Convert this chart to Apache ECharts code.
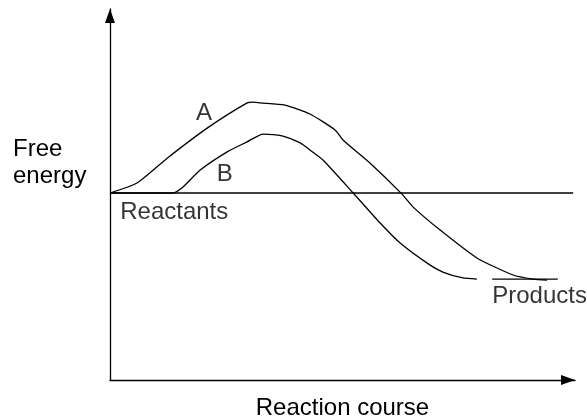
<!DOCTYPE html>
<html>
<head>
<meta charset="utf-8">
<script src="https://cdn.jsdelivr.net/npm/echarts@6/dist/echarts.min.js"></script>
<style>
html,body{margin:0;padding:0;background:#fff;}
#chart{width:587px;height:419px;}
</style>
</head>
<body>
<div id="chart"></div>
<script>
// Reaction coordinate (0-100) and free energy (0-100)
const curveAX = [0, 5.8, 12.3, 20.9, 29.5, 30.8, 32.3, 37.6, 43.0, 48.4, 50.1, 55.9, 62.8, 65.2, 71.0, 78.9, 86.7, 91.0, 94.0];
const curveAY = [50.4, 53.1, 59.8, 67.9, 74.7, 74.9, 74.7, 74.1, 71.7, 67.4, 64.7, 58.5, 50.1, 46.6, 40.4, 32.9, 28.3, 27.2, 26.9];
const curveBX = [0, 13.5, 15.5, 19.4, 25.2, 29.5, 32.9, 37.0, 40.9, 43.0, 45.8, 52.3, 58.1, 62.4, 68.2, 71.6, 75.9, 78.9];
const curveBY = [50.4, 50.4, 51.8, 56.6, 61.5, 64.2, 66.3, 65.8, 63.9, 62.0, 59.3, 50.4, 42.3, 36.9, 31.5, 29.1, 27.5, 27.2];
const reactantLevel = 50.4;
const reactantLineX = [0, 99.6];
const productLevel = 27.2;
const productLineX = [82.2, 96.3];
const annotationNames = ['A', 'B', 'Reactants', 'Products'];
const annotationX = [20.2, 24.7, 2.2, 82.2];
const annotationY = [72.0, 55.5, 45.3, 22.6];
const annotationAlign = ['center', 'center', 'left', 'left'];
const xAxisName = 'Reaction course';
const yAxisName = 'Free\nenergy';

const FONT = 'Liberation Sans, Arial, Helvetica, sans-serif';
const chart = echarts.init(document.getElementById('chart'), null, {renderer: 'canvas'});

const pairs = (xs, ys) => xs.map((x, i) => [x, ys[i]]);
const lineStyle = {color: '#000', width: 1.3};

const axisCommon = {
  type: 'value', min: 0, max: 100,
  axisLine: {show: true, onZero: false, symbol: ['none', 'triangle'], symbolSize: [10, 14], symbolOffset: [0, -7], lineStyle: {color: '#000', width: 1.3}},
  axisTick: {show: false}, axisLabel: {show: false}, splitLine: {show: false}
};

chart.setOption({
  animation: false,
  backgroundColor: '#fff',
  grid: {left: 110, right: 12, top: 9, bottom: 39, containLabel: false, outerBoundsMode: 'none'},
  xAxis: Object.assign({}, axisCommon, {
    name: xAxisName, nameLocation: 'middle', nameGap: 16,
    nameTextStyle: {fontSize: 24, fontFamily: FONT, color: '#000'}
  }),
  yAxis: Object.assign({}, axisCommon),
  graphic: [{
    type: 'text', left: 13, top: 136,
    style: {text: yAxisName, font: '24px ' + FONT, fill: '#000', lineHeight: 27}
  }],
  series: [
    {type: 'line', data: pairs(curveAX, curveAY), symbol: 'none', lineStyle: lineStyle, smooth: 0.2, clip: false},
    {type: 'line', data: pairs(curveBX, curveBY), symbol: 'none', lineStyle: lineStyle, smooth: 0.2, clip: false},
    {type: 'line', data: reactantLineX.map(x => [x, reactantLevel]), symbol: 'none', lineStyle: lineStyle, clip: false},
    {type: 'line', data: productLineX.map(x => [x, productLevel]), symbol: 'none', lineStyle: lineStyle, clip: false},
    {
      type: 'scatter', symbolSize: 0, clip: false,
      data: annotationNames.map((n, i) => ({
        name: n, value: [annotationX[i], annotationY[i]],
        label: {align: annotationAlign[i]}
      })),
      label: {show: true, position: 'inside', formatter: '{b}', fontSize: 24, fontFamily: FONT, color: '#000', textBorderWidth: 0, verticalAlign: 'middle'}
    }
  ]
});
</script>
</body>
</html>
